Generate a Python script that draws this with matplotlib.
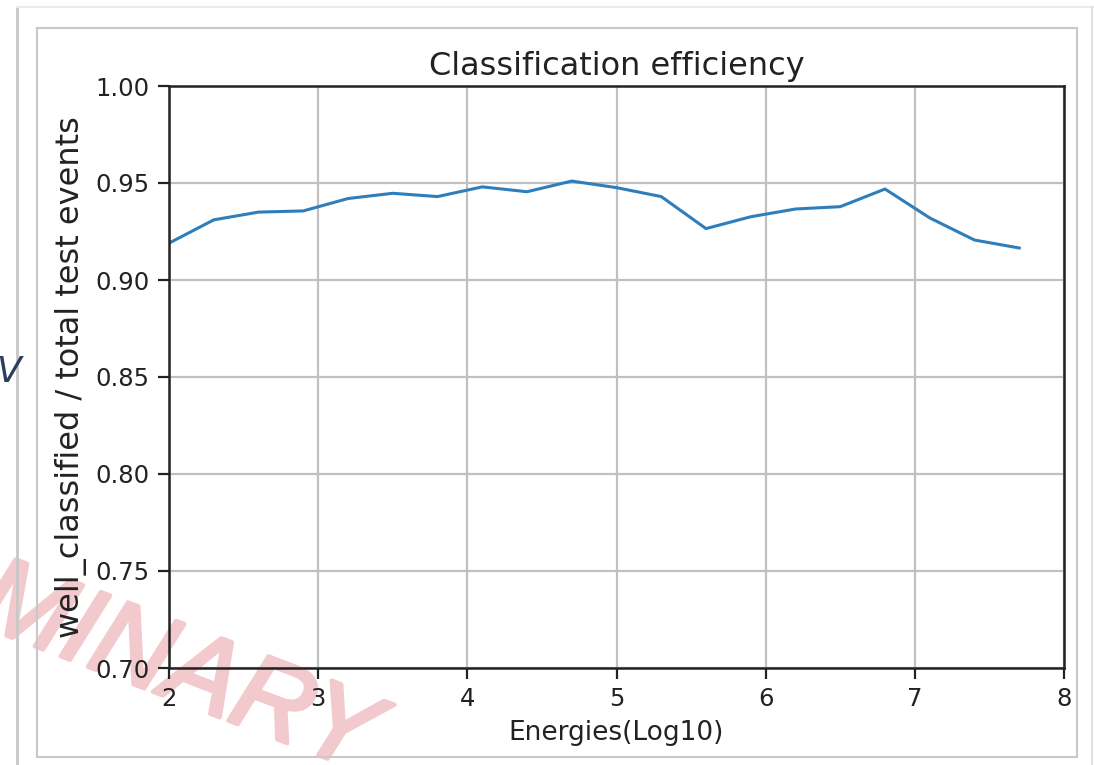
import numpy as np
import matplotlib
matplotlib.use('Agg')
import matplotlib.pyplot as plt
import matplotlib.patheffects as pe
from matplotlib.patches import Rectangle
from matplotlib.lines import Line2D

# classification efficiency per energy bin
energies = [2.0, 2.3, 2.6, 2.9, 3.2, 3.5, 3.8, 4.1, 4.4, 4.7,
            5.0, 5.3, 5.6, 5.9, 6.2, 6.5, 6.8, 7.1, 7.4, 7.7]
efficiency = [0.919, 0.931, 0.935, 0.9356, 0.942, 0.9447, 0.943, 0.948, 0.9455, 0.951,
              0.9476, 0.943, 0.9265, 0.9326, 0.9366, 0.9378, 0.9469, 0.932, 0.9206, 0.9165]
xticks = [2, 3, 4, 5, 6, 7, 8]
yticks = [0.70, 0.75, 0.80, 0.85, 0.90, 0.95, 1.00]

W, H = 1094, 765
fig = plt.figure(figsize=(W / 100, H / 100), dpi=100)
fig.patch.set_facecolor('white')

# screenshot frames
fig.add_artist(Line2D([17 / W, 17 / W], [0, 1 - 7 / H], color='#c8c8c8', lw=2))
fig.add_artist(Line2D([17 / W, 1], [1 - 7 / H, 1 - 7 / H], color='#ececec', lw=1.5))
fig.add_artist(Line2D([1092 / W, 1092 / W], [0, 1 - 7 / H], color='#e0e0e0', lw=1.5))
fig.add_artist(Rectangle((37 / W, 1 - 757 / H), (1077 - 37) / W, (757 - 28) / H,
                         transform=fig.transFigure, fill=False, ec='#c8c8c8', lw=1.5))

ax = fig.add_axes([169 / W, 1 - 668 / H, (1064 - 169) / W, (668 - 86) / H])
ax.patch.set_alpha(0)
ax.plot(energies, efficiency, color='#2f7ebc', lw=2.2)
ax.set_xlim(2, 8)
ax.set_ylim(0.70, 1.00)
ax.set_xticks(xticks)
ax.set_yticks(yticks)
ax.set_yticklabels(['%.2f' % v for v in yticks])
ax.grid(True, color='#c0c0c0', lw=1.6)
for s in ax.spines.values():
    s.set_linewidth(1.8)
    s.set_color('#222222')
ax.tick_params(labelsize=17.5, length=8, width=1.6, colors='#222222', pad=6)
ax.set_title('Classification efficiency', fontsize=23, color='#222222', pad=8)
ax.set_xlabel('Energies(Log10)', fontsize=19, color='#222222', labelpad=6)
ax.set_ylabel('well_classified / total test events', fontsize=23, color='#222222', labelpad=6)

# watermark (behind the plot) and cut-off text from the page
wm_color = '#f2c9cc'
fig.text(362 / W, 1 - 772 / H, 'PRELIMINARY', fontsize=78, color=wm_color, zorder=-1,
         rotation=-21, ha='right', va='baseline', rotation_mode='anchor',
         family='Liberation Sans', style='italic',
         path_effects=[pe.withStroke(linewidth=3, foreground=wm_color)])
fig.text(-4 / W, 1 - 372 / H, 'V', fontsize=26, color='#2a3f5f', style='italic',
         ha='left', va='center')

fig.savefig('out.png', dpi=100)
